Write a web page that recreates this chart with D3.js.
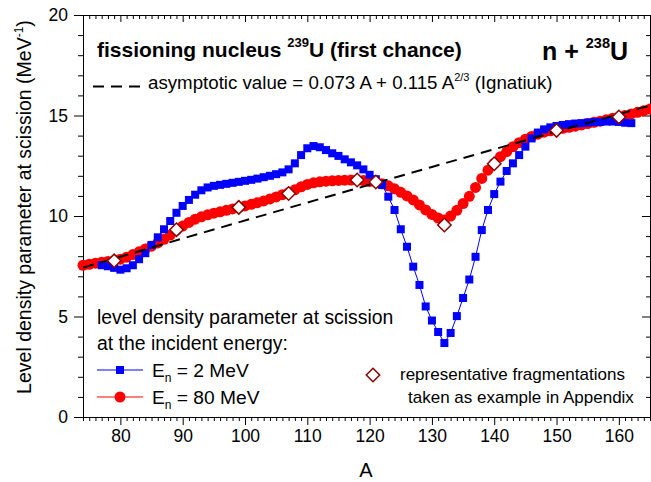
<!DOCTYPE html>
<html><head><meta charset="utf-8">
<script src="https://cdn.jsdelivr.net/npm/d3@7"></script>
<style>
body{margin:0;background:#fff}
svg{display:block}
text{font-family:"Liberation Sans",Arial,Helvetica,sans-serif;fill:#000}
</style>
</head><body>
<svg id="chart" width="651" height="482"></svg>
<script>
// ---- data ----
const blueA = [77,78,79,80,81,82,83,84,85,86,87,88,89,90,91,92,93,94,95,96,97,98,99,100,
  101,102,103,104,105,106,107,108,109,110,111,112,113,114,115,116,117,118,119,120,
  121,122,123,124,125,126,127,128,129,130,131,132,133,134,135,136,137,138,139,140,
  141,142,143,144,145,146,147,148,149,150,151,152,153,154,155,156,157,158,159,160,161,162];
const blueValues = [7.55,7.50,7.42,7.33,7.40,7.55,7.85,8.15,8.56,8.94,9.34,9.75,10.16,10.50,10.80,11.06,11.28,11.42,11.50,11.55,
  11.60,11.65,11.70,11.75,11.80,11.86,11.93,12.00,12.08,12.17,12.32,12.62,13.03,13.37,13.48,13.42,13.28,13.12,12.99,12.82,
  12.67,12.52,12.32,12.05,11.83,11.54,10.96,10.30,9.34,8.47,7.48,6.57,5.50,4.80,4.23,3.68,4.18,5.02,5.92,6.84,
  7.97,9.30,10.30,11.09,11.71,12.24,12.62,13.03,13.45,13.86,14.15,14.31,14.41,14.48,14.53,14.57,14.60,14.62,14.65,14.67,
  14.68,14.70,14.70,14.68,14.64,14.62];
const redA = [74,75,76,77,78,79,80,81,82,83,84,85,86,87,88,89,90,91,92,93,94,95,96,97,98,99,100,
  101,102,103,104,105,106,107,108,109,110,111,112,113,114,115,116,117,118,119,120,
  121,122,123,124,125,126,127,128,129,130,131,132,133,134,135,136,137,138,139,140,
  141,142,143,144,145,146,147,148,149,150,151,152,153,154,155,156,157,158,159,160,
  161,162,163,164,165];
const redValues = [7.55,7.60,7.65,7.70,7.74,7.78,7.85,7.95,8.08,8.22,8.36,8.50,8.66,8.84,9.05,9.30,9.50,9.68,9.84,9.96,10.06,10.14,10.21,10.28,10.35,10.42,10.50,
  10.58,10.66,10.75,10.85,10.95,11.06,11.16,11.30,11.45,11.57,11.65,11.70,11.73,11.75,11.77,11.78,11.79,11.79,11.76,11.72,
  11.68,11.60,11.50,11.35,11.18,11.00,10.80,10.55,10.30,10.08,9.90,9.80,10.00,10.28,10.62,10.98,11.42,11.87,12.28,12.62,
  12.95,13.20,13.45,13.65,13.82,13.96,14.07,14.17,14.24,14.30,14.36,14.41,14.47,14.53,14.60,14.66,14.72,14.79,14.86,14.93,
  15.00,15.08,15.16,15.24,15.32];
const diamondA = [79,89,99,107,118,121,132,140,150,160];
const diamondValues = [7.77,9.32,10.43,11.12,11.79,11.69,9.55,12.60,14.26,14.93];
const asymA = [74,90,110,130,150,165];
const asymValues = [7.43,8.88,10.67,12.44,14.20,15.50];
const xTicks = [80,90,100,110,120,130,140,150,160];
const xMinorTicks = d3.range(74,166).filter(v => v % 10 !== 0);
const yTicks = [0,5,10,15,20];
const yMinorTicks = d3.range(0,21).filter(v => v % 5 !== 0);

// ---- colours ----
const blue = "#0000ff", red = "#ff0000", dred = "#8b0000";

const svg = d3.select("#chart");
const x = d3.scaleLinear().domain([74,165]).range([83,650]);
const y = d3.scaleLinear().domain([0,20]).range([417,15]);

const blueData = blueA.map((a,i)=>({a, v: blueValues[i]}));
const redData = redA.map((a,i)=>({a, v: redValues[i]}));
const diaData = diamondA.map((a,i)=>({a, v: diamondValues[i]}));
const asymData = asymA.map((a,i)=>({a, v: asymValues[i]}));

// ---- axes ----
function styleAxis(g){ g.selectAll("path,line").attr("stroke","#000").attr("stroke-width",1); }
const fs = "17.5px";
// bottom
svg.append("g").attr("transform","translate(0,417)")
  .call(d3.axisBottom(x).tickValues(xTicks).tickSize(8).tickSizeOuter(0).tickPadding(5))
  .call(styleAxis)
  .call(g=>g.selectAll("text").attr("font-size",fs).attr("font-family",null));
svg.append("g").attr("transform","translate(0,417)")
  .call(d3.axisBottom(x).tickValues(xMinorTicks).tickSize(4).tickSizeOuter(0).tickFormat(""))
  .call(styleAxis);
// top (inward)
svg.append("g").attr("transform","translate(0,15)")
  .call(d3.axisBottom(x).tickValues(xTicks).tickSize(7).tickSizeOuter(0).tickFormat(""))
  .call(styleAxis);
svg.append("g").attr("transform","translate(0,15)")
  .call(d3.axisBottom(x).tickValues(xMinorTicks).tickSize(4).tickSizeOuter(0).tickFormat(""))
  .call(styleAxis);
// left
svg.append("g").attr("transform","translate(83,0)")
  .call(d3.axisLeft(y).tickValues(yTicks).tickSize(9).tickSizeOuter(0).tickPadding(6))
  .call(styleAxis)
  .call(g=>g.selectAll("text").attr("font-size",fs).attr("font-family",null));
svg.append("g").attr("transform","translate(83,0)")
  .call(d3.axisLeft(y).tickValues(yMinorTicks).tickSize(5).tickSizeOuter(0).tickFormat(""))
  .call(styleAxis);
// right (inward)
svg.append("g").attr("transform","translate(650,0)")
  .call(d3.axisLeft(y).tickValues(yTicks).tickSize(8).tickSizeOuter(0).tickFormat(""))
  .call(styleAxis);
svg.append("g").attr("transform","translate(650,0)")
  .call(d3.axisLeft(y).tickValues(yMinorTicks).tickSize(4).tickSizeOuter(0).tickFormat(""))
  .call(styleAxis);

// axis titles
svg.append("text").attr("x",366).attr("y",477).attr("text-anchor","middle")
  .attr("font-size","20px").text("A");
const yt = svg.append("text").attr("transform","translate(31,207) rotate(-90)")
  .attr("text-anchor","middle").attr("font-size","19.5px");
yt.append("tspan").text("Level density parameter at scission (MeV");
yt.append("tspan").attr("font-size","12px").attr("dy",-8).text("-1");
yt.append("tspan").attr("dy",8).text(")");

// ---- series ----
const line = d3.line().x(d=>x(d.a)).y(d=>y(d.v));
svg.append("path").datum(redData).attr("d",line).attr("fill","none").attr("stroke",red).attr("stroke-width",1);
svg.append("g").selectAll("circle").data(redData).join("circle")
  .attr("cx",d=>x(d.a)).attr("cy",d=>y(d.v)).attr("r",5.5).attr("fill",red);
svg.append("path").datum(blueData).attr("d",line).attr("fill","none").attr("stroke",blue).attr("stroke-width",1);
svg.append("g").selectAll("rect").data(blueData).join("rect")
  .attr("x",d=>x(d.a)-4).attr("y",d=>y(d.v)-4).attr("width",8).attr("height",8).attr("fill",blue);
svg.append("path").datum(asymData).attr("d",line).attr("fill","none").attr("stroke","#000")
  .attr("stroke-width",2).attr("stroke-dasharray","11,7");
const diamond = d3.symbol().type(d3.symbolDiamond2).size(115);
svg.append("g").selectAll("path").data(diaData).join("path")
  .attr("transform",d=>`translate(${x(d.a)},${y(d.v)})`).attr("d",diamond)
  .attr("fill","#fff").attr("stroke",dred).attr("stroke-width",1.5);

// ---- annotations ----
const t1 = svg.append("text").attr("x",97).attr("y",57).attr("font-size","21px").attr("font-weight","bold");
t1.append("tspan").text("fissioning nucleus ");
t1.append("tspan").attr("font-size","13px").attr("dy",-10).text("239");
t1.append("tspan").attr("dy",10).text("U (first chance)");

const t2 = svg.append("text").attr("x",542).attr("y",60).attr("font-size","25px").attr("font-weight","bold");
t2.append("tspan").text("n + ");
t2.append("tspan").attr("font-size","14.5px").attr("dy",-12).text("238");
t2.append("tspan").attr("dy",12).text("U");

svg.append("line").attr("x1",93).attr("x2",141).attr("y1",86.5).attr("y2",86.5)
  .attr("stroke","#000").attr("stroke-width",2).attr("stroke-dasharray","11,7");
const t3 = svg.append("text").attr("x",148).attr("y",89).attr("font-size","18.7px");
t3.append("tspan").text("asymptotic value = 0.073 A + 0.115 A");
t3.append("tspan").attr("font-size","11px").attr("dy",-8).text("2/3");
t3.append("tspan").attr("dy",8).text(" (Ignatiuk)");

svg.append("text").attr("x",97).attr("y",324).attr("font-size","19.4px").text("level density parameter at scission");
svg.append("text").attr("x",97).attr("y",350).attr("font-size","19.4px").text("at the incident energy:");

// legend entries
svg.append("line").attr("x1",97).attr("x2",143).attr("y1",370).attr("y2",370).attr("stroke",blue);
svg.append("rect").attr("x",120-4).attr("y",370-4).attr("width",8).attr("height",8).attr("fill",blue);
const l1 = svg.append("text").attr("x",152).attr("y",377).attr("font-size","19.2px");
l1.append("tspan").text("E");
l1.append("tspan").attr("font-size","12px").attr("dy",5).text("n");
l1.append("tspan").attr("dy",-5).text(" = 2 MeV");

svg.append("line").attr("x1",97).attr("x2",143).attr("y1",397).attr("y2",397).attr("stroke",red);
svg.append("circle").attr("cx",120).attr("cy",397).attr("r",5.5).attr("fill",red);
const l2 = svg.append("text").attr("x",152).attr("y",404).attr("font-size","19.2px");
l2.append("tspan").text("E");
l2.append("tspan").attr("font-size","12px").attr("dy",5).text("n");
l2.append("tspan").attr("dy",-5).text(" = 80 MeV");

svg.append("path").attr("transform","translate(373,375)").attr("d",diamond)
  .attr("fill","#fff").attr("stroke",dred).attr("stroke-width",1.5);
svg.append("text").attr("x",400).attr("y",380).attr("font-size","17px").text("representative fragmentations");
svg.append("text").attr("x",408).attr("y",403).attr("font-size","17px").text("taken as example in Appendix");
</script>
</body></html>
